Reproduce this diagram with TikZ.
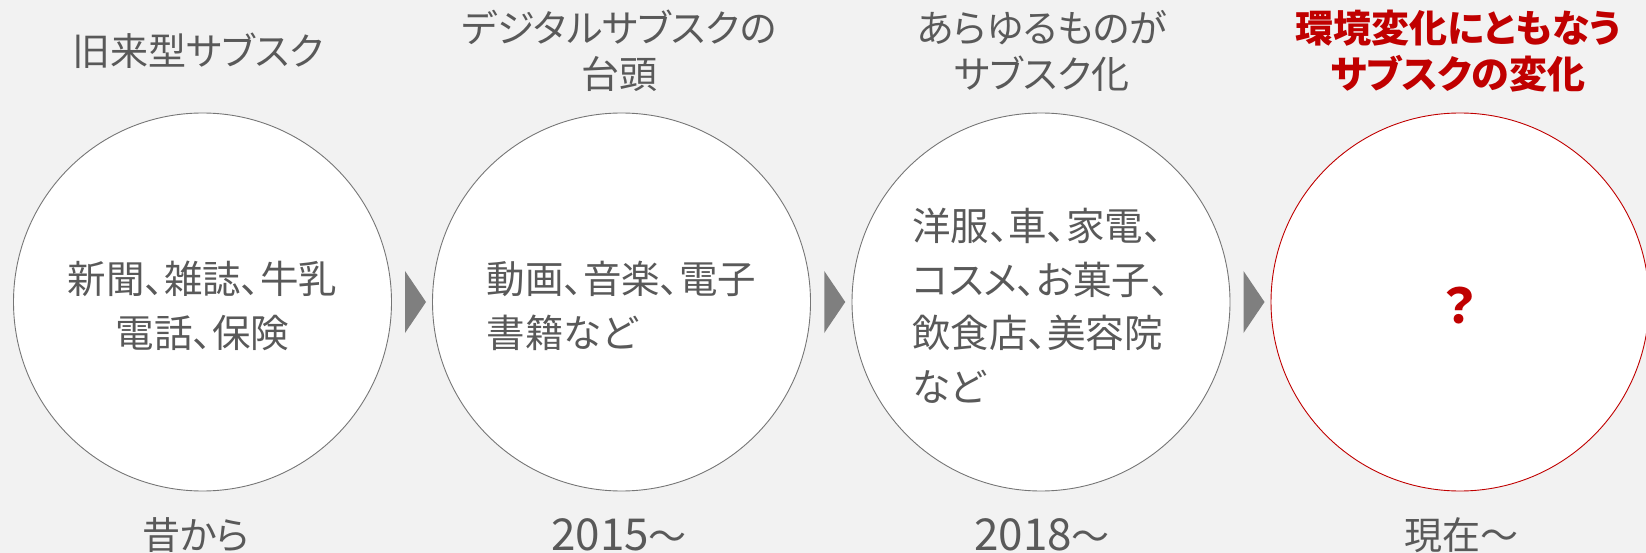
\documentclass[tikz,border=0pt]{standalone}
\usepackage{fontspec}
\usetikzlibrary{calc}
\newfontfamily\jp[RawFeature=+palt]{Noto Sans CJK JP}
\definecolor{bggray}{HTML}{F2F2F2}
\definecolor{txtgray}{HTML}{595959}
\definecolor{ringgray}{HTML}{767676}
\definecolor{arrgray}{HTML}{7F7F7F}
\definecolor{accent}{HTML}{C00000}
\newcommand{\digits}[1]{{\fontsize{44}{44}\selectfont #1}}
\begin{document}
\begin{tikzpicture}[x=1pt,y=-1pt,
  ring/.style={circle,draw=ringgray,line width=0.9pt,fill=white,minimum size=378pt,inner sep=0pt},
  body/.style={font=\jp\fontsize{38.5}{53.5}\selectfont,text=txtgray,inner sep=0pt},
  head/.style={font=\jp\fontsize{38}{46}\selectfont,text=txtgray,align=center,inner sep=0pt},
  foot/.style={font=\jp\fontsize{38}{40}\selectfont,text=txtgray,inner sep=0pt},
  tri/.style={fill=arrgray,draw=none}]
\fill[bggray] (0,0) rectangle (1646,553);
\useasboundingbox (0,0) rectangle (1646,553);
\clip (0,0) rectangle (1646,553);
% circles
\node[ring] (c1) at (202.5,302) {};
\node[ring] (c2) at (621.5,302) {};
\node[ring] (c3) at (1041,302) {};
\node[ring,draw=accent] (c4) at (1460,302) {};
% arrows
\foreach \a/\b/\n in {c1/c2/a1,c2/c3/a2,c3/c4/a3}{
  \coordinate (\n) at ($(\a.east)!0.5!(\b.west)$);
  \fill[tri] ([xshift=-7pt,yshift=31pt]\n) -- ([xshift=-7pt,yshift=-31pt]\n) -- ([xshift=14pt]\n) -- cycle;
}
% body texts
\node[body,align=center] (t1) at ([yshift=-4pt]c1.center) {新聞、雑誌、牛乳\\電話、保険};
\node[body,align=left] (t2) at ([yshift=-4pt]c2.center) {動画、音楽、電子\\書籍など};
\node[body,align=left] (t3) at ([yshift=-4pt]c3.center) {洋服、車、家電、\\コスメ、お菓子、\\飲食店、美容院\\など};
\node[body,text=accent,font=\jp\bfseries\fontsize{48}{48}\selectfont] (t4) at ([yshift=-4pt]c4.center) {？};
% headings
\node[head] (h1) at (198,51) {旧来型サブスク};
\node[head] (h2) at (619,51) {デジタルサブスクの\\台頭};
\node[head] (h3) at (1042,51) {あらゆるものが\\サブスク化};
\node[head,text=accent,font=\jp\bfseries\fontsize{38}{46}\selectfont] (h4) at (1458,51) {環境変化にともなう\\サブスクの変化};
% footers
\node[foot] (f1) at (196,535) {昔から};
\node[foot] (f2) at (619,535) {\digits{2015}～};
\node[foot] (f3) at (1042,535) {\digits{2018}～};
\node[foot] (f4) at (1461,535) {現在～};
\end{tikzpicture}
\end{document}
